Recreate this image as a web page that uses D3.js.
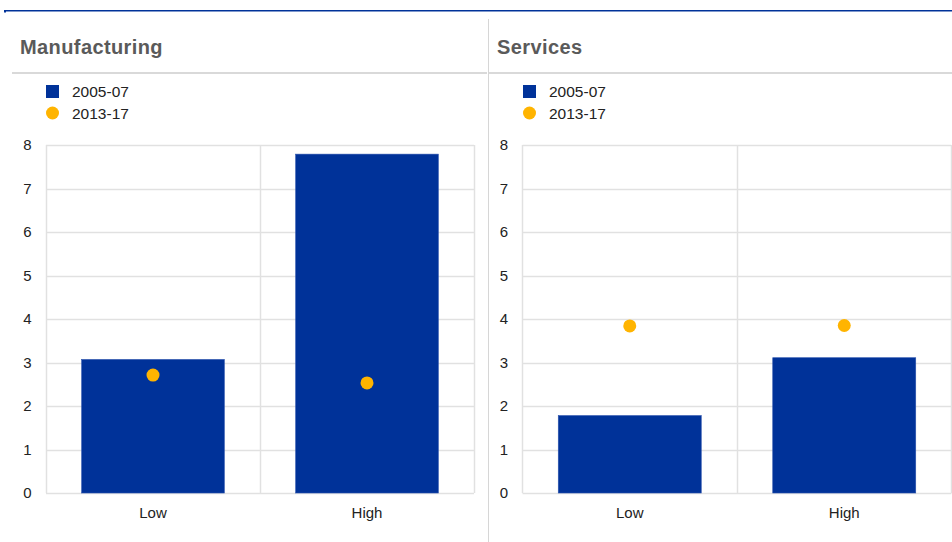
<!DOCTYPE html>
<html>
<head>
<meta charset="utf-8">
<script src="https://cdn.jsdelivr.net/npm/d3@7"></script>
<style>
  body { margin: 0; background: #fff; font-family: "Liberation Sans", Arial, sans-serif; }
</style>
</head>
<body>
<div id="chart"></div>
<script>
// data
var categories = ["Low", "High"];
var seriesNames = ["2005-07", "2013-17"];
var panelTitles = ["Manufacturing", "Services"];
var bars2005 = [[3.07, 7.79], [1.78, 3.11]];
var dots2013 = [[2.71, 2.53], [3.84, 3.85]];
var yTicks = [0, 1, 2, 3, 4, 5, 6, 7, 8];

var W = 952, H = 542;
var blue = "#003299", yellow = "#ffb400", grid = "#e1e1e1";

var svg = d3.select("#chart").append("svg")
    .attr("width", W)
    .attr("height", H);

// top rule
svg.append("rect").attr("x", 4).attr("y", 10).attr("width", W - 4).attr("height", 1.5).attr("fill", blue);
svg.append("rect").attr("x", 4).attr("y", 10).attr("width", 2).attr("height", 2.5).attr("fill", blue);

// divider between panels
svg.append("line")
    .attr("x1", 488.5).attr("x2", 488.5)
    .attr("y1", 19).attr("y2", H)
    .attr("stroke", "#d6d6d6").attr("stroke-width", 1);

var panels = [
    { x0: 12, x1: 487, titleX: 20, plotL: 46, plotR: 474 },
    { x0: 489, x1: 952, titleX: 497, plotL: 522.5, plotR: 951.5 }
];

var plotTop = 145, plotBottom = 493;

panels.forEach(function(p, i) {
    var g = svg.append("g");

    // title and underline
    g.append("text")
        .attr("x", p.titleX).attr("y", 54)
        .attr("fill", "#5a5a5a")
        .style("font-size", "20px")
        .style("font-weight", "bold")
        .style("letter-spacing", "0.4px")
        .text(panelTitles[i]);
    g.append("rect")
        .attr("x", p.x0).attr("y", 72)
        .attr("width", p.x1 - p.x0).attr("height", 2)
        .attr("fill", "#d9d9d9");

    // legend
    var lg = g.append("g").attr("transform", "translate(" + Math.round(p.plotL) + ",0)");
    lg.append("rect").attr("x", 0).attr("y", 85).attr("width", 13).attr("height", 13).attr("fill", blue);
    lg.append("circle").attr("cx", 6.5).attr("cy", 113).attr("r", 6.5).attr("fill", yellow);
    lg.selectAll("text.leg")
        .data(seriesNames)
        .enter().append("text")
        .attr("x", 26)
        .attr("y", function(d, k) { return 91.5 + k * 22; })
        .attr("dy", "0.36em")
        .attr("fill", "#222")
        .style("font-size", "15.5px")
        .text(function(d) { return d; });

    var x = d3.scaleBand()
        .domain(categories)
        .range([p.plotL, p.plotR])
        .paddingInner(1 / 3)
        .paddingOuter(1 / 6);

    var y = d3.scaleLinear()
        .domain([0, 8])
        .range([plotBottom, plotTop]);

    // horizontal grid
    g.selectAll("line.hgrid")
        .data(yTicks)
        .enter().append("line")
        .attr("x1", p.plotL).attr("x2", p.plotR)
        .attr("y1", function(d) { return Math.round(y(d)) + 0.5; })
        .attr("y2", function(d) { return Math.round(y(d)) + 0.5; })
        .attr("stroke", grid).attr("stroke-width", 1.5);

    // vertical grid (plot borders and category boundary)
    var vx = [p.plotL, p.plotL + (p.plotR - p.plotL) / 2, p.plotR];
    g.selectAll("line.vgrid")
        .data(vx)
        .enter().append("line")
        .attr("x1", function(d) { return Math.floor(d) + 0.5; })
        .attr("x2", function(d) { return Math.floor(d) + 0.5; })
        .attr("y1", plotTop).attr("y2", plotBottom)
        .attr("stroke", grid).attr("stroke-width", 1.5);

    // y axis labels
    g.append("g")
        .attr("transform", "translate(" + (p.plotL - 14.5) + ",0)")
        .call(d3.axisLeft(y).tickValues(yTicks).tickSize(0).tickPadding(0))
        .call(function(a) { a.select(".domain").remove(); })
        .selectAll("text")
        .attr("fill", "#222")
        .style("font-size", "15px")
        .style("font-family", "Liberation Sans, Arial, sans-serif");

    // x axis labels
    g.append("g")
        .attr("transform", "translate(0," + (plotBottom + 14) + ")")
        .call(d3.axisBottom(x).tickSize(0).tickPadding(0))
        .call(function(a) { a.select(".domain").remove(); })
        .selectAll("text")
        .attr("fill", "#222")
        .style("font-size", "15px")
        .style("font-family", "Liberation Sans, Arial, sans-serif");

    // bars
    g.selectAll("rect.bar")
        .data(bars2005[i])
        .enter().append("rect")
        .attr("class", "bar")
        .attr("x", function(d, k) { return x(categories[k]); })
        .attr("y", function(d) { return y(d); })
        .attr("width", x.bandwidth())
        .attr("height", function(d) { return y(0) - y(d); })
        .attr("fill", blue)
        .attr("stroke", "#2a52ad")
        .attr("stroke-width", 0.6);

    // dots
    g.selectAll("circle.dot")
        .data(dots2013[i])
        .enter().append("circle")
        .attr("cx", function(d, k) { return x(categories[k]) + x.bandwidth() / 2; })
        .attr("cy", function(d) { return y(d); })
        .attr("r", 6.5)
        .attr("fill", yellow);
});
</script>
</body>
</html>
